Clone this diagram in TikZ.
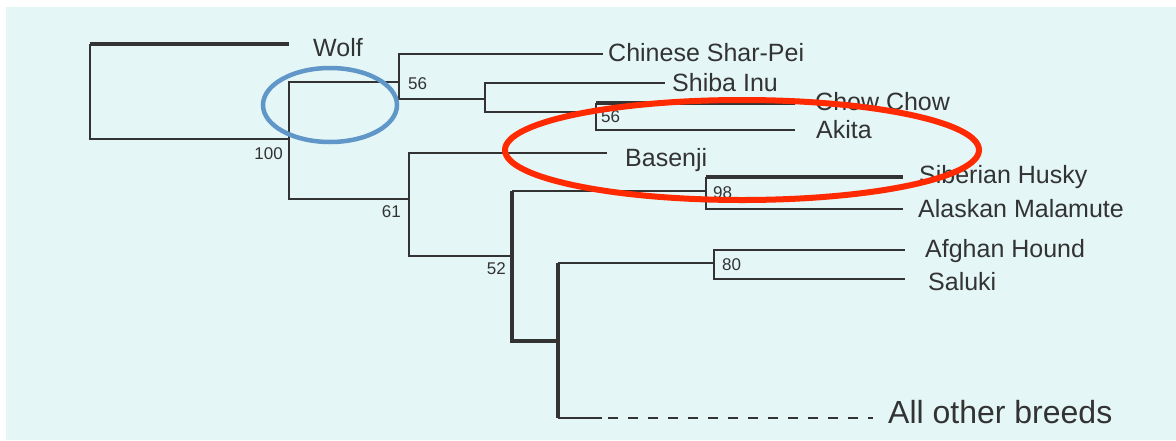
\documentclass[tikz,border=0pt]{standalone}
\usepackage{fontspec}
\setmainfont{Liberation Sans}
\definecolor{panel}{HTML}{E4F6F6}
\definecolor{ink}{HTML}{333333}
\definecolor{ringblue}{HTML}{6096C8}
\definecolor{ringred}{HTML}{FF2A00}

\begin{document}
\begin{tikzpicture}[yscale=-1,x=1pt,y=1pt,
    branch/.style={ink,line width=1.8pt},
    heavybranch/.style={ink,line width=3.8pt},
    breed/.style={anchor=west,inner sep=0pt,text=ink,text height=18pt,text depth=0pt,font=\fontsize{25}{25}\selectfont},
    support/.style={inner sep=0pt,text=ink,text height=12pt,text depth=0pt,font=\fontsize{17}{17}\selectfont}]

    \useasboundingbox (0,0) rectangle (1176,440);
    \fill[panel] (6,7) rectangle (1176,440);

    % inner nodes of the tree
    \coordinate (root) at (90,92);
    \coordinate (n100) at (289,139);
    \coordinate (n56) at (399,82);
    \coordinate (nspitz) at (485,99);
    \coordinate (n56b) at (596,112);
    \coordinate (n61) at (409,199);
    \coordinate (n52) at (512,256);
    \coordinate (n98) at (706,191);
    \coordinate (nsight) at (558,341);
    \coordinate (n80) at (714,263);

    % branch tips
    \coordinate (wolf) at (289,44);
    \coordinate (sharpei) at (603,54);
    \coordinate (shiba) at (665,83);
    \coordinate (chow) at (795,103);
    \coordinate (akita) at (795,130);
    \coordinate (basenji) at (607,153);
    \coordinate (husky) at (903,177);
    \coordinate (malamute) at (903,209);
    \coordinate (afghan) at (905,250);
    \coordinate (saluki) at (905,279);
    \coordinate (others) at (602,418);
    \coordinate (dashstart) at (608,418);
    \coordinate (dashend) at (873,418);

    \node[breed] (wolf-l) at (313,47) {Wolf};
    \node[breed] (sharpei-l) at (608,52) {Chinese Shar-Pei};
    \node[breed] (shiba-l) at (672,82) {Shiba Inu};
    \node[breed] (chow-l) at (815,101) {Chow Chow};
    \node[breed] (akita-l) at (816,129) {Akita};
    \node[breed] (basenji-l) at (625,157) {Basenji};
    \node[breed] (husky-l) at (919,174) {Siberian Husky};
    \node[breed] (malamute-l) at (918,208) {Alaskan Malamute};
    \node[breed] (afghan-l) at (925,248) {Afghan Hound};
    \node[breed] (saluki-l) at (928,281) {Saluki};
    \node[breed,text height=23pt,font=\fontsize{32}{32}\selectfont] (others-l) at (888,412) {All other breeds};

    \node[support,anchor=east] (b100) at (283,153) {100};
    \node[support,anchor=west] (b56) at (408,83) {56};
    \node[support,anchor=west] (b56b) at (601,116) {56};
    \node[support,anchor=east] (b61) at (401,211) {61};
    \node[support,anchor=west] (b98) at (713,192) {98};
    \node[support,anchor=east] (b52) at (506,268) {52};
    \node[support,anchor=west] (b80) at (722,264) {80};

    \draw[branch] (root) |- (n100);
    \draw[branch] (root) -- (root |- wolf);
    \draw[heavybranch] (root |- wolf) -- (wolf);

    \draw[branch] (n100) |- (n56);
    \draw[branch] (n100) |- (n61);
    \draw[branch] (n56) |- (sharpei);
    \draw[branch] (n56) |- (nspitz);
    \draw[branch] (nspitz) |- (shiba);
    \draw[branch] (nspitz) |- (n56b);
    \draw[branch] (n56b) |- (akita);
    \draw[branch] (n56b) -- (n56b |- chow);
    \draw[heavybranch] (n56b |- chow) -- (chow);

    \draw[branch] (n61) |- (basenji);
    \draw[branch] (n61) |- (n52);
    \draw[heavybranch] (n52 |- n98) -- (n52 |- nsight) -- (nsight);
    \draw[branch] (n52 |- n98) -- (n98);
    \draw[branch] (n98) |- (malamute);
    \draw[branch] (n98) -- (n98 |- husky);
    \draw[heavybranch] (n98 |- husky) -- (husky);

    \draw[heavybranch] (nsight |- n80) -- (nsight |- others);
    \draw[branch] (nsight |- n80) -- (n80);
    \draw[branch] (n80) |- (afghan);
    \draw[branch] (n80) |- (saluki);
    \draw[branch] (nsight |- others) -- (others);
    \draw[branch,dash pattern=on 10pt off 10pt] (dashstart) -- (dashend);

    \draw[ringblue,line width=4.5pt] (330,105) ellipse [x radius=67pt, y radius=37pt];
    \draw[ringred,line width=6pt] (742,150) ellipse [x radius=237pt, y radius=50pt];
\end{tikzpicture}
\end{document}
